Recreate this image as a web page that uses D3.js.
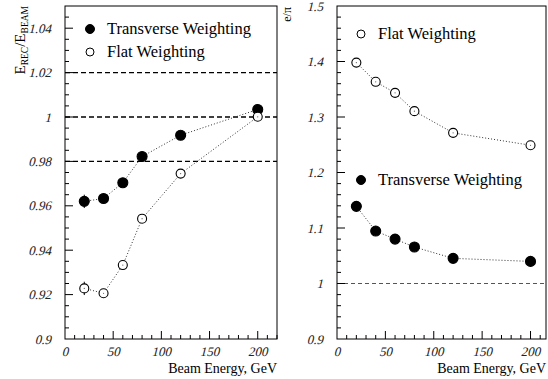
<!DOCTYPE html>
<meta charset="utf-8">
<body style="margin:0;background:#fff">
<div id="chart"></div>
<script src="https://cdn.jsdelivr.net/npm/d3@7"></script>
<script>
// beam energies (GeV)
var energies = [20, 40, 60, 80, 120, 200]

// E_rec / E_beam
var linTransverse = [0.962, 0.9633, 0.9704, 0.9822, 0.9918, 1.0034]
var linFlat       = [0.9228, 0.9206, 0.9333, 0.9542, 0.9745, 1.0001]
var linErr        = [0.003, 0, 0, 0, 0, 0]

// e/pi ratio
var epiFlat       = [1.398, 1.3634, 1.3435, 1.3105, 1.2714, 1.2491]
var epiTransverse = [1.139, 1.0945, 1.080, 1.0657, 1.0453, 1.0398]

var linRefLines = [1.02, 1, 0.98]
var epiRefLines = [1]

var FONT = 'Liberation Serif'

var svg = d3.select('#chart').append('svg')
    .attr('width', 548).attr('height', 379)

function label(size){
  return svg.append('text').attr('font-family', FONT).attr('font-size', size)
}

// no italic serif face installed, so slant the tick labels by hand
function tickLabel(txt, tx, ty, anchor){
  label(13).attr('fill', '#222').attr('text-anchor', anchor)
      .attr('transform', 'translate(' + tx + ',' + ty + ') skewX(-14)')
      .text(txt)
}

function panel(opts){
  var x = d3.scaleLinear().domain(opts.xdom).range([opts.x0, opts.x1])
  var y = d3.scaleLinear().domain(opts.ydom).range([opts.y1, opts.y0])

  // reference dashed lines
  svg.selectAll(null).data(opts.refs).enter().append('line')
      .attr('x1', opts.x0).attr('x2', opts.x1)
      .attr('y1', function(d){ return y(d) }).attr('y2', function(d){ return y(d) })
      .attr('stroke', opts.refColor).attr('stroke-width', opts.refWidth)
      .attr('stroke-dasharray', opts.refDash)

  // frame
  svg.append('rect')
      .attr('x', opts.x0).attr('y', opts.y0)
      .attr('width', opts.x1 - opts.x0).attr('height', opts.y1 - opts.y0)
      .attr('fill', 'none').attr('stroke', '#000').attr('stroke-width', 1)

  // x ticks (inward)
  var xMinor = d3.range(10, opts.xdom[1] + 0.01, 10)
  svg.selectAll(null).data(xMinor).enter().append('line')
      .attr('x1', function(d){ return x(d) }).attr('x2', function(d){ return x(d) })
      .attr('y1', opts.y1).attr('y2', function(d){ return opts.y1 - (d % 50 == 0 ? 8 : 4) })
      .attr('stroke', '#000')
  ;[0, 50, 100, 150, 200].forEach(function(d){
    tickLabel(d, x(d), opts.y1 + 17, 'middle')
  })

  // y ticks
  var n = Math.round((opts.ydom[1] - opts.ydom[0]) / opts.yMinor)
  var yMinor = d3.range(1, n).map(function(i){ return opts.ydom[0] + i * opts.yMinor })
  svg.selectAll(null).data(yMinor).enter().append('line')
      .attr('x1', opts.x0)
      .attr('x2', function(d, i){ return opts.x0 + ((i + 1) % opts.majorEvery == 0 ? 8 : 4) })
      .attr('y1', function(d){ return y(d) }).attr('y2', function(d){ return y(d) })
      .attr('stroke', '#000')
  opts.yLabels.forEach(function(d){
    tickLabel(d, opts.x0 - 14, y(+d) + 4.5, 'end')
  })

  label(14)
      .attr('x', opts.x1).attr('y', 373)
      .attr('text-anchor', 'end')
      .text('Beam Energy, GeV')

  var line = d3.line().x(function(d){ return x(d[0]) }).y(function(d){ return y(d[1]) })

  opts.series.forEach(function(s){
    var pts = energies.map(function(e, i){ return [e, s.values[i], s.err ? s.err[i] : 0] })
    svg.append('path').datum(pts)
        .attr('d', line).attr('fill', 'none')
        .attr('stroke', '#333').attr('stroke-width', 1)
        .attr('stroke-dasharray', '1,2')
    var err = pts.filter(function(d){ return d[2] > 0 })
    svg.selectAll(null).data(err).enter().append('line')
        .attr('x1', function(d){ return x(d[0]) }).attr('x2', function(d){ return x(d[0]) })
        .attr('y1', function(d){ return y(d[1] - d[2]) }).attr('y2', function(d){ return y(d[1] + d[2]) })
        .attr('stroke', '#000')
    svg.selectAll(null).data(pts).enter().append('circle')
        .attr('cx', function(d){ return x(d[0]) }).attr('cy', function(d){ return y(d[1]) })
        .attr('r', s.filled ? 5 : 4.5)
        .attr('fill', s.filled ? '#000' : '#fff')
        .attr('stroke', '#000').attr('stroke-width', 1.1)
    if (!s.filled) {
      svg.selectAll(null).data(pts).enter().append('circle')
          .attr('cx', function(d){ return x(d[0]) }).attr('cy', function(d){ return y(d[1]) })
          .attr('r', 0.6).attr('fill', '#555')
    }
  })

  opts.legend.forEach(function(l){
    svg.append('circle')
        .attr('cx', l.x).attr('cy', l.y).attr('r', l.filled ? 4.5 : 4)
        .attr('fill', l.filled ? '#000' : '#fff').attr('stroke', '#000')
    label(16.5)
        .attr('x', l.x + 17).attr('y', l.y + 5)
        .text(l.text)
  })
}

panel({
  x0: 65, x1: 277, y0: 6, y1: 339,
  xdom: [0, 220], ydom: [0.9, 1.05], yMinor: 0.005, majorEvery: 4,
  yLabels: ['0.9', '0.92', '0.94', '0.96', '0.98', '1', '1.02', '1.04'],
  refs: linRefLines, refColor: '#000', refWidth: 1.4, refDash: '5,3',
  series: [
    {values: linTransverse, filled: true, err: linErr},
    {values: linFlat, filled: false, err: linErr}
  ],
  legend: [
    {x: 90, y: 29, filled: true, text: 'Transverse Weighting'},
    {x: 90, y: 52, filled: false, text: 'Flat Weighting'}
  ]
})

panel({
  x0: 337, x1: 546, y0: 6, y1: 339,
  xdom: [0, 216], ydom: [0.9, 1.5], yMinor: 0.02, majorEvery: 5,
  yLabels: ['0.9', '1', '1.1', '1.2', '1.3', '1.4', '1.5'],
  refs: epiRefLines, refColor: '#555', refWidth: 1, refDash: '4,3',
  series: [
    {values: epiFlat, filled: false},
    {values: epiTransverse, filled: true}
  ],
  legend: [
    {x: 361, y: 34, filled: false, text: 'Flat Weighting'},
    {x: 361, y: 180, filled: true, text: 'Transverse Weighting'}
  ]
})

// axis titles
var t1 = label(15)
    .attr('transform', 'translate(25,6) rotate(-90)')
    .attr('text-anchor', 'end')
t1.append('tspan').text('E')
t1.append('tspan').attr('font-size', 9.5).attr('dy', 3).text('REC')
t1.append('tspan').attr('dy', -3).text('/E')
t1.append('tspan').attr('font-size', 9.5).attr('dy', 3).text('BEAM')

label(12)
    .attr('transform', 'translate(291,7) rotate(-90)')
    .attr('text-anchor', 'end')
    .text('e/π')
</script>
</body>
